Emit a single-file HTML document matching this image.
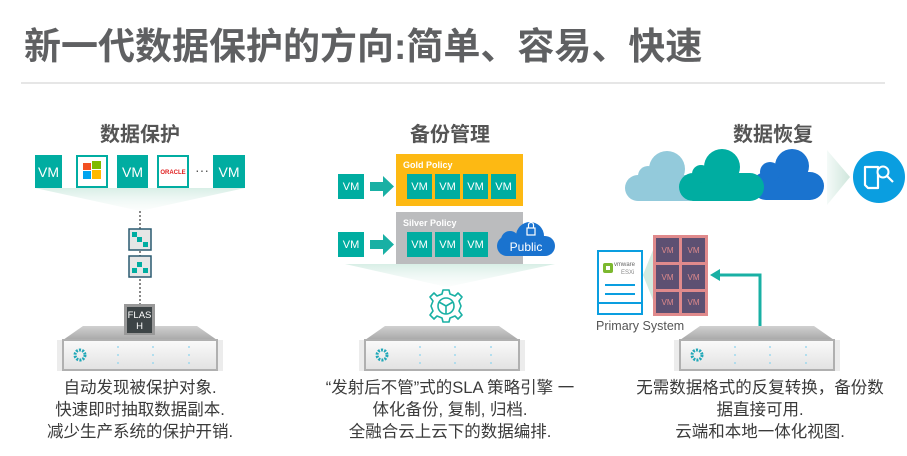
<!DOCTYPE html>
<html><head><meta charset="utf-8"><style>
html,body{margin:0;padding:0;background:#fff;width:907px;height:456px;overflow:hidden}
.t{position:absolute;font-family:"Liberation Sans","Noto Sans CJK SC",sans-serif;white-space:nowrap}
</style></head><body>
<svg width="907" height="456" style="position:absolute;left:0;top:0" font-family="Liberation Sans, Noto Sans CJK SC, sans-serif">
<defs>
<linearGradient id="fan" x1="0" y1="0" x2="0" y2="1"><stop offset="0" stop-color="#d8eee6"/><stop offset="1" stop-color="#f4faf8" stop-opacity="0.3"/></linearGradient>
<linearGradient id="fanh" x1="0" y1="0" x2="1" y2="0"><stop offset="0" stop-color="#f4faf8"/><stop offset="1" stop-color="#cfe6dc"/></linearGradient>
<linearGradient id="srvtop" x1="0" y1="0" x2="0" y2="1"><stop offset="0" stop-color="#d0d0d0"/><stop offset="1" stop-color="#a8a8a8"/></linearGradient>
<linearGradient id="srvbody" x1="0" y1="0" x2="0" y2="1"><stop offset="0" stop-color="#fafafa"/><stop offset="1" stop-color="#e2e2e2"/></linearGradient>
<g id="srv">
<polygon points="20,0 134,0 154,14 0,14" fill="url(#srvtop)"/>
<rect x="-6" y="14" width="166" height="31" fill="#ececec"/>
<rect x="0" y="14" width="154" height="30" fill="url(#srvbody)" stroke="#b0b0b0" stroke-width="2"/>
<circle cx="17" cy="29" r="5" fill="none" stroke="#20a8b8" stroke-width="3" stroke-dasharray="2 1.2"/>
<g fill="#9fd8ee"><circle cx="55" cy="21" r="1"/><circle cx="55" cy="29" r="1"/><circle cx="55" cy="37" r="1"/><circle cx="90" cy="21" r="1"/><circle cx="90" cy="29" r="1"/><circle cx="90" cy="37" r="1"/><circle cx="126" cy="21" r="1"/><circle cx="126" cy="29" r="1"/><circle cx="126" cy="37" r="1"/></g>
</g>
</defs>
<line x1="21" y1="83" x2="885" y2="83" stroke="#dedede" stroke-width="1.5"/>

<polygon points="35,188 245,188 140,211" fill="url(#fan)"/>
<g font-size="14" fill="#fff" text-anchor="middle">
<rect x="35" y="155" width="27" height="33" fill="#00ada1"/><text x="48.5" y="177">VM</text>
<rect x="77" y="156" width="30" height="31" fill="#fff" stroke="#00ada1" stroke-width="2"/>
<rect x="83" y="163" width="8" height="7" fill="#f25022"/><rect x="92" y="161" width="9" height="8" fill="#7fba00"/><rect x="83" y="171" width="8" height="8" fill="#00a4ef"/><rect x="92" y="170" width="9" height="9" fill="#ffb900"/>
<rect x="117" y="155" width="31" height="33" fill="#00ada1"/><text x="132.5" y="177">VM</text>
<rect x="158" y="156" width="30" height="31" fill="#fff" stroke="#00ada1" stroke-width="2"/>
<text x="173" y="174" font-size="6" fill="#e02020" font-weight="bold">ORACLE</text>
<text x="202" y="175" fill="#555" font-size="14">···</text>
<rect x="213" y="155" width="32" height="33" fill="#00ada1"/><text x="229" y="177">VM</text>
</g>
<line x1="140" y1="211" x2="140" y2="304" stroke="#888" stroke-width="2" stroke-dasharray="2 2"/>
<rect x="129" y="229" width="22" height="21" fill="#e6e6e6" stroke="#2a5a70" stroke-width="1.5"/>
<rect x="132" y="232" width="5" height="5" fill="#00ada1"/><rect x="137" y="237" width="5" height="5" fill="#00ada1"/><rect x="143" y="242" width="5" height="5" fill="#00ada1"/>
<rect x="129" y="256" width="22" height="21" fill="#e6e6e6" stroke="#2a5a70" stroke-width="1.5"/>
<rect x="137" y="262" width="5" height="5" fill="#00ada1"/><rect x="132" y="268" width="5" height="5" fill="#00ada1"/><rect x="143" y="268" width="5" height="5" fill="#00ada1"/>
<use href="#srv" x="63" y="326"/>
<rect x="124" y="304" width="31" height="31" fill="#999"/>
<rect x="127" y="307" width="25" height="26" fill="#3d4446"/>
<text x="139.5" y="318" font-size="9.5" fill="#fff" text-anchor="middle">FLAS</text>
<text x="139.5" y="329" font-size="9.5" fill="#fff" text-anchor="middle">H</text>

<rect x="396" y="154" width="127" height="52" fill="#fdb913"/>
<text x="403" y="168" font-size="9" fill="#fff" font-weight="bold">Gold Policy</text>
<rect x="396" y="212" width="127" height="52" fill="#bbbcbe"/>
<text x="403" y="226" font-size="9" fill="#fff" font-weight="bold">Silver Policy</text>
<g font-size="11" fill="#fff" text-anchor="middle">
<rect x="338" y="174" width="26" height="25" fill="#00ada1"/><text x="351" y="190">VM</text>
<rect x="338" y="232" width="26" height="25" fill="#00ada1"/><text x="351" y="248">VM</text>
<rect x="407" y="174" width="25" height="25" fill="#00ada1"/><text x="419.5" y="190">VM</text>
<rect x="435" y="174" width="25" height="25" fill="#00ada1"/><text x="447.5" y="190">VM</text>
<rect x="463" y="174" width="25" height="25" fill="#00ada1"/><text x="475.5" y="190">VM</text>
<rect x="491" y="174" width="25" height="25" fill="#00ada1"/><text x="503.5" y="190">VM</text>
<rect x="407" y="232" width="25" height="25" fill="#00ada1"/><text x="419.5" y="248">VM</text>
<rect x="435" y="232" width="25" height="25" fill="#00ada1"/><text x="447.5" y="248">VM</text>
<rect x="463" y="232" width="25" height="25" fill="#00ada1"/><text x="475.5" y="248">VM</text>
</g>
<polygon points="370,182 383,182 383,176 394,186.5 383,197 383,191 370,191" fill="#19b0a4"/>
<polygon points="370,240 383,240 383,234 394,244.5 383,255 383,249 370,249" fill="#19b0a4"/>
<g fill="#1a73cf"><rect x="497" y="236" width="58" height="20" rx="10"/><circle cx="530" cy="236" r="14"/><circle cx="510" cy="240" r="9"/></g>
<rect x="527" y="228" width="8" height="7" fill="none" stroke="#fff" stroke-width="1.2"/><path d="M528.5 228v-3a2.5 2.5 0 0 1 5 0v3" fill="none" stroke="#fff" stroke-width="1.2"/>
<text x="526" y="251" font-size="12" fill="#fff" text-anchor="middle">Public</text>
<polygon points="345,264 555,264 447,287" fill="url(#fan)"/>
<g transform="translate(446,306)" fill="none" stroke="#19b0a4" stroke-width="1.6">
<path d="M-3,-16 L3,-16 L4,-12 L9,-10 L12,-13 L16,-9 L13,-5 L15,0 L13,5 L16,9 L12,13 L9,10 L4,12 L3,16 L-3,16 L-4,12 L-9,10 L-12,13 L-16,9 L-13,5 L-15,0 L-13,-5 L-16,-9 L-12,-13 L-9,-10 L-4,-12 Z" stroke-linejoin="round"/>
<circle r="8"/><path d="M0,0 L0,8 M0,0 L-7,-4 M0,0 L7,-4"/>
</g>
<use href="#srv" x="365" y="326"/>

<g fill="#93cadb"><rect x="625" y="175" width="76" height="26" rx="13"/><circle cx="667" cy="169" r="18"/><circle cx="648" cy="176" r="10"/></g>
<g fill="#1a73cf"><rect x="752" y="172" width="72" height="28" rx="14"/><circle cx="792" cy="166" r="17"/><circle cx="770" cy="172" r="10"/></g>
<g fill="#00ada1"><rect x="679" y="173" width="85" height="28" rx="14"/><circle cx="722" cy="167" r="18"/><circle cx="701" cy="174" r="9"/></g>
<polygon points="827,150 850,177 827,205" fill="url(#fanh)"/>
<circle cx="879" cy="177" r="26" fill="#0a9ee0"/>
<path d="M865,167 L878,167 L878,188 L868,188 L865,185 Z" fill="none" stroke="#fff" stroke-width="2.2" stroke-linejoin="round"/>
<circle cx="883" cy="172" r="5.5" fill="#0a9ee0" stroke="#fff" stroke-width="2"/>
<line x1="887" y1="176" x2="893" y2="182" stroke="#fff" stroke-width="2.2"/>
<polygon points="653,250 643,275 653,300" fill="#d3ebe0"/>
<rect x="598" y="251" width="44" height="63" fill="#fff" stroke="#0a9ee0" stroke-width="2"/>
<line x1="598" y1="303" x2="642" y2="303" stroke="#0a9ee0" stroke-width="2"/>
<line x1="605" y1="285" x2="635" y2="285" stroke="#0a9ee0" stroke-width="2"/>
<line x1="605" y1="294" x2="635" y2="294" stroke="#0a9ee0" stroke-width="2"/>
<rect x="603" y="263" width="10" height="10" rx="2" fill="#7cb82f"/><rect x="606" y="266" width="4" height="4" fill="#fff"/>
<text x="614" y="266" font-size="6" fill="#666">vmware</text>
<text x="621" y="274" font-size="6" fill="#888">ESXi</text>
<rect x="653" y="235" width="55" height="81" fill="#e08a8c"/>
<g fill="#5d5072"><rect x="656" y="238" width="23" height="24"/><rect x="682" y="238" width="23" height="24"/><rect x="656" y="265" width="23" height="24"/><rect x="682" y="265" width="23" height="24"/><rect x="656" y="292" width="23" height="21"/><rect x="682" y="292" width="23" height="21"/></g>
<g font-size="8" fill="#e08a8c" text-anchor="middle"><text x="667.5" y="253">VM</text><text x="693.5" y="253">VM</text><text x="667.5" y="280">VM</text><text x="693.5" y="280">VM</text><text x="667.5" y="305">VM</text><text x="693.5" y="305">VM</text></g>
<polyline points="760,326 760,275 718,275" fill="none" stroke="#19b0a4" stroke-width="3"/>
<polygon points="710,275 720,269 720,281" fill="#19b0a4"/>
<text x="596" y="330" font-size="12.5" fill="#555">Primary System</text>
<use href="#srv" x="680" y="326"/>
</svg>

<div class="t" style="left:24px;top:16px;font-size:37px;font-weight:bold;color:#5f6062;letter-spacing:0px">新一代数据保护的方向:简单、容易、快速</div>
<div class="t" style="left:100px;top:118px;font-size:20px;font-weight:bold;color:#555">数据保护</div>
<div class="t" style="left:410px;top:118px;font-size:20px;font-weight:bold;color:#555">备份管理</div>
<div class="t" style="left:733px;top:118px;font-size:20px;font-weight:bold;color:#555">数据恢复</div>
<div class="t" style="left:40px;width:200px;top:377px;font-size:16.5px;line-height:22px;color:#3a3a3a;text-align:center">自动发现被保护对象.<br>快速即时抽取数据副本.<br>减少生产系统的保护开销.</div>
<div class="t" style="left:300px;width:300px;top:377px;font-size:16.5px;line-height:22px;color:#3a3a3a;text-align:center">“发射后不管”式的SLA 策略引擎 一<br>体化备份, 复制, 归档.<br>全融合云上云下的数据编排.</div>
<div class="t" style="left:610px;width:300px;top:377px;font-size:16.5px;line-height:22px;color:#3a3a3a;text-align:center">无需数据格式的反复转换，备份数<br>据直接可用.<br>云端和本地一体化视图.</div>
</body></html>
